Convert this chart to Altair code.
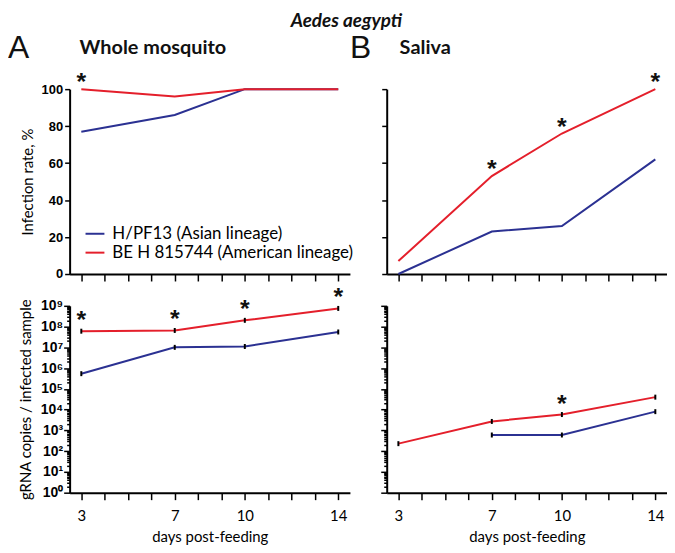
import altair as alt
import pandas as pd

# ---------------- data ----------------
days = [3, 7, 10, 14]
strains = ["H/PF13 (Asian lineage)", "BE H 815744 (American lineage)"]
colors = ["#2b3192", "#e41f2b"]

whole_rate_asian = [77, 86, 100, 100]
whole_rate_american = [100, 96, 100, 100]
saliva_rate_asian = [0, 23, 26, 62]
saliva_rate_american = [7, 53, 76, 100]

whole_copies_asian = [5.4e5, 1.0e7, 1.1e7, 5.5e7]
whole_copies_american = [6.0e7, 6.5e7, 2.0e8, 7.5e8]
saliva_copies_asian = [None, 600, 600, 8000]
saliva_copies_american = [230, 2700, 5800, 40000]

stars_whole_rate = [3]
stars_saliva_rate = [7, 10, 14]
stars_whole_copies = [3, 7, 10, 14]
stars_saliva_copies = [10]

x_ticks = list(range(3, 15))
x_labeled = [3, 7, 10, 14]
rate_ticks = [0, 20, 40, 60, 80, 100]
log_ticks = [m * 10 ** e for e in range(9) for m in range(1, 10)] + [10 ** 9]

FONT = "Lato"
LAB_FONT = "Liberation Sans"


def long_df(asian, american):
    rows = []
    for s, vals in zip(strains, [asian, american]):
        for d, v in zip(days, vals):
            if v is not None:
                rows.append({"day": d, "value": v, "strain": s})
    return pd.DataFrame(rows)


def star_df(star_days, american):
    return pd.DataFrame({"day": star_days,
                         "value": [american[days.index(d)] for d in star_days],
                         "star": ["*"] * len(star_days)})


is_major = "abs(log(datum.value)/LN10 - round(log(datum.value)/LN10)) < 0.001"
log_label = ("%s ? '10' + substring('⁰¹²³⁴⁵⁶⁷⁸⁹', round(log(datum.value)/LN10), "
             "round(log(datum.value)/LN10) + 1) : ''" % is_major)


def make_panel(asian, american, star_days, log, left, bottom, legend, annots):
    df = long_df(asian, american)
    xaxis = alt.Axis(values=x_ticks, labels=bottom,
                     labelExpr="indexof([3,7,10,14], datum.value) >= 0 ? datum.label : ''",
                     title="days post-feeding" if bottom else None,
                     tickSize=7, tickWidth=1.5, tickColor="black",
                     domainWidth=2, domainColor="black", grid=False,
                     labelFont=FONT, labelFontSize=15, labelPadding=9,
                     labelColor="black",
                     titleFont=FONT, titleFontSize=15, titleFontWeight="normal",
                     titlePadding=6, titleColor="black")
    x = alt.X("day:Q", scale=alt.Scale(domain=[2.5, 14.5], nice=False, zero=False),
              axis=xaxis)
    if log:
        yaxis = alt.Axis(values=log_ticks, labels=left, labelExpr=log_label,
                         labelOverlap=False,
                         title="gRNA copies / infected sample" if left else None,
                         tickSize={"condition": {"test": is_major, "value": 6}, "value": 3},
                         tickWidth=1.5, tickColor="black",
                         domainWidth=2, domainColor="black", grid=False,
                         labelFont=LAB_FONT, labelFontSize=14, labelFontWeight="bold",
                         labelPadding=1, labelColor="black",
                         titleFont=FONT, titleFontSize=15, titleFontWeight="normal",
                         titlePadding=7, titleColor="black")
        yscale = alt.Scale(type="log", domain=[1, 1e9], nice=False)
        star_dy = -3
    else:
        yaxis = alt.Axis(values=rate_ticks, labels=left,
                         title="Infection rate, %" if left else None,
                         tickSize=5, tickWidth=1.5, tickColor="black",
                         domainWidth=2, domainColor="black", grid=False,
                         labelFont=LAB_FONT, labelFontSize=13, labelFontWeight="bold",
                         labelPadding=2, labelColor="black",
                         titleFont=FONT, titleFontSize=15, titleFontWeight="normal",
                         titlePadding=6, titleColor="black")
        yscale = alt.Scale(domain=[0, 100], nice=False, zero=True)
        star_dy = 1
    y = alt.Y("value:Q", scale=yscale, axis=yaxis)

    if legend:
        leg = alt.Legend(title=None, orient="none", legendX=15, legendY=135,
                         symbolType="stroke", symbolSize=361, symbolStrokeWidth=2,
                         labelFont=FONT, labelFontSize=17, labelColor="black",
                         labelOffset=7, rowPadding=0, padding=0,
                         labelLimit=400)
    else:
        leg = None
    color = alt.Color("strain:N", scale=alt.Scale(domain=strains, range=colors),
                      legend=leg)

    lines = alt.Chart(df).mark_line(strokeWidth=2).encode(x=x, y=y, color=color)
    layers = [lines]
    if log:
        bars = alt.Chart(df).mark_point(
            shape="M-0.4,-1L0.4,-1L0.4,1L-0.4,1Z", filled=True, color="black",
            size=25, opacity=1).encode(x=x, y=y)
        layers.append(bars)
    stars = alt.Chart(star_df(star_days, american)).mark_text(
        font=LAB_FONT, fontSize=25, fontWeight="bold", color="#111",
        baseline="alphabetic", dy=star_dy).encode(x=x, y=y, text="star:N")
    layers.append(stars)
    for txt, xv, yv, size, weight, fnt in annots:
        layers.append(alt.Chart(pd.DataFrame({"t": [txt]})).mark_text(
            font=fnt, fontSize=size, fontWeight=weight, color="#111",
            align="left", baseline="middle").encode(
            text="t:N", x=alt.value(xv), y=alt.value(yv)))
    return alt.layer(*layers).properties(width=282, height=186 if not log else 188)


tl = make_panel(whole_rate_asian, whole_rate_american, stars_whole_rate, False,
                True, False, True,
                [("A", -62, -41, 32, "normal", LAB_FONT),
                 ("Whole mosquito", 10, -41, 20, "bold", FONT)])
tr = make_panel(saliva_rate_asian, saliva_rate_american, stars_saliva_rate, False,
                False, False, False,
                [("B", -37, -41, 32, "normal", LAB_FONT),
                 ("Saliva", 13, -41, 20, "bold", FONT)])
bl = make_panel(whole_copies_asian, whole_copies_american, stars_whole_copies, True,
                True, True, False, [])
br = make_panel(saliva_copies_asian, saliva_copies_american, stars_saliva_copies, True,
                False, True, False, [])

chart = alt.concat(tl, tr, bl, br, columns=2, bounds="flush",
                   spacing={"row": 32, "column": 37}).resolve_legend(
    color="independent").properties(
    padding={"top": 2, "left": 0, "right": 0, "bottom": 0},
    title=alt.TitleParams("Aedes aegypti", font=FONT, fontSize=19, fontStyle="italic",
                          fontWeight="bold", anchor="middle", offset=2, dx=9,
                          color="#111"),
).configure_view(stroke=None)

chart.save("out.html", embed_options={"renderer": "svg", "actions": False})
